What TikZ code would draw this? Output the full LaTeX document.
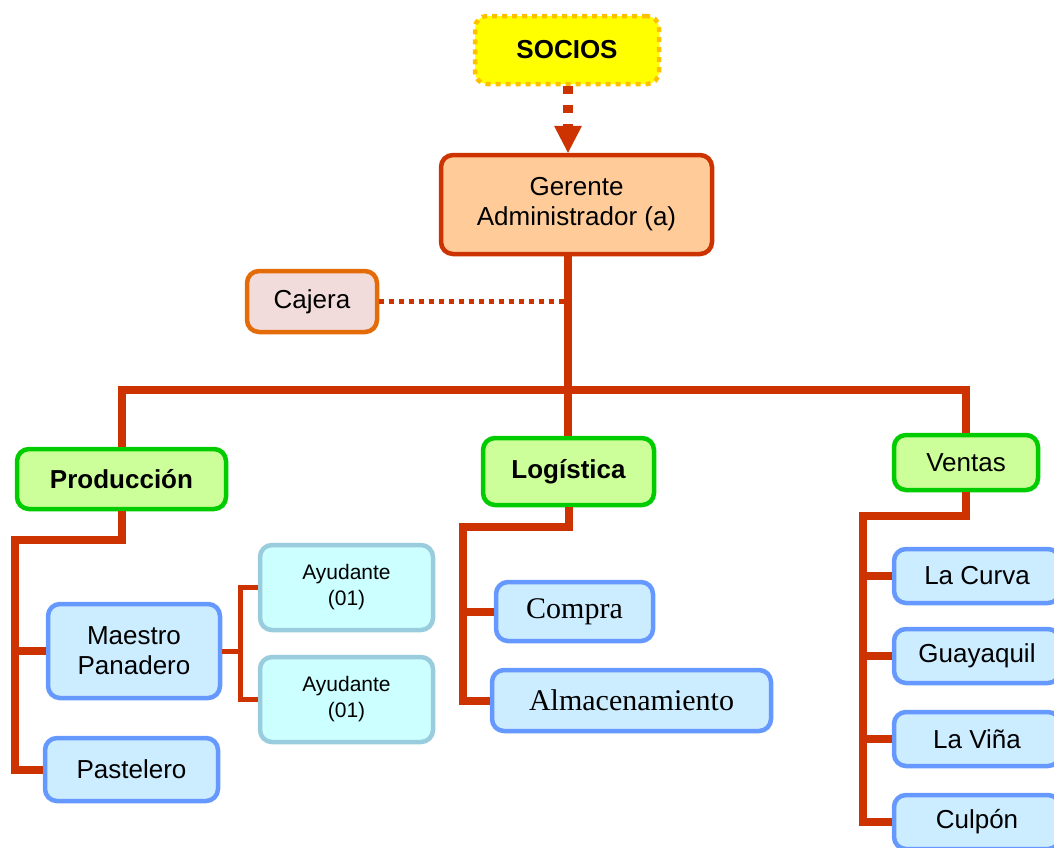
\documentclass[tikz,border=0pt]{standalone}
\usepackage{fontspec}
\setmainfont{Liberation Sans}
\newfontfamily\tnr{Liberation Serif}
\definecolor{dred}{HTML}{CC3300}
\definecolor{socfill}{HTML}{FFFF00}
\definecolor{socdraw}{HTML}{FFC000}
\definecolor{gerfill}{HTML}{FFCC99}
\definecolor{cajfill}{HTML}{F2DCDB}
\definecolor{cajdraw}{HTML}{E36C09}
\definecolor{grfill}{HTML}{CCFF99}
\definecolor{grdraw}{HTML}{00CC00}
\definecolor{blfill}{HTML}{CCECFF}
\definecolor{bldraw}{HTML}{6699FF}
\definecolor{ayfill}{HTML}{CCFFFF}
\definecolor{aydraw}{HTML}{99CCDD}
\tikzset{
  box/.style={rectangle, rounded corners=12pt, line width=4.5pt, align=center,
    inner sep=0pt, font=\fontsize{26}{30}\selectfont},
  socbox/.style={box, fill=socfill, draw=socdraw, dash pattern=on 5pt off 5pt,
    font=\fontsize{26}{30}\selectfont\bfseries},
  gerbox/.style={box, fill=gerfill, draw=dred},
  cajbox/.style={box, fill=cajfill, draw=cajdraw},
  areabox/.style={box, fill=grfill, draw=grdraw},
  subbox/.style={box, fill=blfill, draw=bldraw},
  aybox/.style={box, fill=ayfill, draw=aydraw, font=\fontsize{21}{26}\selectfont},
  conn/.style={draw=dred, line width=8pt},
  thinconn/.style={draw=dred, line width=5pt},
  dotconn/.style={draw=dred, line width=5pt, dash pattern=on 5pt off 5pt},
  arrconn/.style={draw=dred, line width=10pt, dash pattern=on 8pt off 11pt}
}
\begin{document}
\begin{tikzpicture}[x=1pt,y=-1pt]
\useasboundingbox (0,0) rectangle (1054,847);
\clip (0,0) rectangle (1054,847);
% nodes
\node[socbox, minimum width=184pt, minimum height=68pt] (socios) at (567,50) {SOCIOS};
\node[gerbox, minimum width=271pt, minimum height=99pt] (ger) at (576.5,204.5) {Gerente\\Administrador (a)};
\node[cajbox, minimum width=130pt, minimum height=61pt] (caj) at (312,301.5) {Cajera};
\node[areabox, minimum width=209pt, minimum height=60pt, font=\fontsize{26}{30}\selectfont\bfseries] (prod) at (121.5,479) {Producción};
\node[areabox, minimum width=171pt, minimum height=67pt, font=\fontsize{26}{30}\selectfont\bfseries] (log) at (568.5,471.5) {Logística};
\node[areabox, minimum width=144pt, minimum height=55pt] (vent) at (966,462.5) {Ventas};
\node[subbox, minimum width=172pt, minimum height=94pt] (maes) at (134,651) {Maestro\\Panadero};
\node[subbox, minimum width=173pt, minimum height=63pt] (past) at (131.5,769.5) {Pastelero};
\node[aybox, minimum width=173pt, minimum height=85pt] (ay1) at (346.5,587.5) {Ayudante\\(01)};
\node[aybox, minimum width=173pt, minimum height=85pt] (ay2) at (346.5,699.5) {Ayudante\\(01)};
\node[subbox, minimum width=157pt, minimum height=59pt, font=\fontsize{30}{34}\selectfont\tnr] (comp) at (574.5,611.5) {Compra};
\node[subbox, minimum width=279pt, minimum height=61pt, font=\fontsize{30}{34}\selectfont\tnr] (alm) at (631.5,700.5) {Almacenamiento};
\node[subbox, minimum width=166pt, minimum height=54pt] (curva) at (977,576) {La Curva};
\node[subbox, minimum width=166pt, minimum height=54pt] (guay) at (977,656) {Guayaquil};
\node[subbox, minimum width=166pt, minimum height=54pt] (vina) at (977,739) {La Viña};
\node[subbox, minimum width=166pt, minimum height=54pt] (culp) at (977,822) {Culpón};
% junction coordinates
\coordinate (bar) at (568,390);
\coordinate (pv) at (15,540);
\coordinate (bk) at (240,650);
\coordinate (lv) at (463,527);
\coordinate (vv) at (863,516);
% connectors
\coordinate (atip) at (ger.north -| bar);
\draw[arrconn] (socios.south -| bar) -- ([yshift=27pt]atip);
\fill[dred] (atip) -- ++(-14,-27) -- ++(28,0) -- cycle;
\draw[conn] (ger.south -| bar) -- (log.north -| bar);
\draw[conn, line join=miter] (prod.north) -- (prod.north |- bar) -- (vent.north |- bar) -- (vent.north);
\draw[dotconn] (caj.east) -- (caj.east -| bar);
\draw[conn, line join=miter] (prod.south) |- (pv) |- (past.west);
\draw[conn] (pv |- maes.west) -- (maes.west);
\draw[thinconn] (maes.east) -- (maes.east -| bk);
\draw[thinconn, line join=miter] (ay1.west) -| (bk) |- (ay2.west);
\draw[conn, line join=miter] (log.south) |- (lv) |- (alm.west);
\draw[conn] (lv |- comp.west) -- (comp.west);
\draw[conn, line join=miter] (vent.south) |- (vv) |- (culp.west);
\draw[conn] (vv |- curva.west) -- (curva.west);
\draw[conn] (vv |- guay.west) -- (guay.west);
\draw[conn] (vv |- vina.west) -- (vina.west);
\end{tikzpicture}
\end{document}
